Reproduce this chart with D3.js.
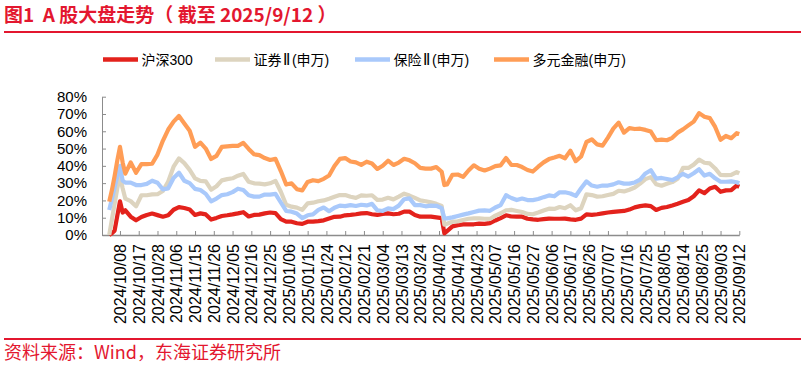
<!DOCTYPE html>
<html><head><meta charset="utf-8">
<script src="https://cdn.jsdelivr.net/npm/d3@7/dist/d3.min.js"></script>
<style>
html,body{margin:0;padding:0;background:#fff;}
svg{display:block;}
</style></head><body>
<svg id="chart" width="805" height="368"></svg>
<script>
// ---------- DATA ----------
const tickLabels = ["2024/10/08","2024/10/17","2024/10/28","2024/11/06","2024/11/15","2024/11/26","2024/12/05","2024/12/16","2024/12/25",
  "2025/01/06","2025/01/15","2025/01/24","2025/02/12","2025/02/21","2025/03/04","2025/03/13","2025/03/24","2025/04/02","2025/04/14",
  "2025/04/23","2025/05/07","2025/05/16","2025/05/27","2025/06/06","2025/06/17","2025/06/26","2025/07/07","2025/07/16","2025/07/25",
  "2025/08/05","2025/08/14","2025/08/25","2025/09/03","2025/09/12"];
// trading-day offset of each tick label (labels every 7 trading days)
const tickDay = [0,7,14,21,28,35,42,49,56,63,70,77,84,91,98,105,112,119,126,133,140,147,154,161,168,175,182,189,196,203,210,217,224,231];
// trading-day offset (from 2024/10/08) of each sampled observation
const tradingDay = [-4,-3,-2,-1,0,1,2,
  4,6,8,10,12,14,16,18,20,22, 24,26,28,30,32,34,36,38,40,42, 44,46,48,50,52,54,56,58,60,62,
  64,66,68,70,72,74,76,78,80,82, 84,86,88,90,92,94,96,98,100,102, 104,106,108,110,112,114,116,118,
  120,121,122,
  124,126,128,130,132,134,136,138,140,142, 144,146,148,150,152,154,156,158,160,162,
  164,166,168,170,172,174,176,178,180,182, 184,186,188,190,192,194,196,198,200,202,
  204,206,208,210,212,214,216,218,220,222, 224,226,228,230,231];
// cumulative change, %
const hs300 = [0,1,2.5,11,19.5,13,14.3,
  10.6,8.5,10.4,11.6,12.4,11.5,10.6,11.4,14.6,16.1, 15.6,14.8,11.6,12.5,11.9,8.9,9.9,11,11.4,11.9,
  12.5,13.2,10.7,11.6,11.8,12.5,13,12.7,9.2,7.7, 7.7,6.8,6.4,7.7,7.7,8,8.5,9.5,10.5,10.6,
  11.4,11.6,12,12.5,12.7,12,11.6,12.2,12.5,12, 12.3,13.5,13.5,11.6,10.6,10.6,10.6,10.2,
  9.8,1,2.3,
  5,5.7,6.1,6.2,6.2,6.6,6.4,6.9,8.4,9.8, 11.4,10.7,10.6,10.6,9.4,9,8.8,9.2,9.5,9.4,
  9.4,9.5,9,8.8,9.5,11.9,11.6,12,12.5,13, 13.4,13.7,13.9,14.7,16,16.7,17.1,16.7,14.5,15.7,
  16.2,17.1,18.1,19.2,20.2,22.4,25.8,24.2,26.9,27.9, 25,25.8,26,28.6,27.9];
const securities = [0,9,18,27,34,27,21,
  19.6,16.6,23,23,23.5,23.6,25.5,31,39.5,44.3, 41.6,37.7,32.8,31.3,31,26.2,28.2,31.6,32.3,32.8,
  34.3,35.3,30.8,29.9,29.7,29.3,29.9,31.3,25,17.5, 16.4,15.8,14.5,18.3,18.7,19.5,20,21,22.1,23.1,
  23.1,22.1,21.5,22.9,22.7,23,20.3,20.5,21.5,20.6, 22.2,23.9,22.8,21.5,20,19.5,18.9,18,
  16.8,6,6.5,
  7.7,7.9,8.7,9.4,9.6,9.6,9.4,9.3,11.2,12.6, 14.3,14.5,13.9,13.3,12.2,12,13,14.2,15.2,15.1,
  16.2,15.5,17.2,14.3,15.5,23.5,23.1,22.2,22.4,23.1, 23.8,25.6,25.2,26.2,27.5,29.7,32.3,33.5,29.4,28.5,
  29.6,30.6,32.5,38.8,38.8,40.7,43.6,41.8,41.4,38.5, 34.7,34.6,34.8,36.4,35.6];
const insurance = [14.5,21,27.5,34,40,31.5,30.3,
  30.3,28.9,28.9,29.6,31.4,30.2,26.4,27,33,36, 31.4,30,26.7,26,23.8,19.5,21.1,23.1,23.6,24.8,
  26.8,26,23,22.2,22.2,23.4,23.4,23.8,18.8,13.9, 13.5,12.4,9.8,11.4,11.9,14.5,15.9,13.8,15.8,17,
  16.7,17.3,16.8,17.5,17.1,18,14.3,13.9,15.4,15, 17,20.7,21.2,17.3,17.3,16.6,17,16.9,
  15.5,9.6,9.6,
  10.2,11,11.8,12.5,13.3,14.1,14.2,14,15.9,17.3, 23,21.4,20.2,21.1,20.2,20.2,20.8,21.9,22.9,22.4,
  24.7,24.7,24,22.6,27,31,28.6,27.9,28.6,28.6, 29.3,30.5,29.7,29.7,30.4,32,35.6,37.5,32.6,33,
  32.4,31.8,33.4,35.4,33.8,35.7,38,34.4,35.4,32.8, 30.8,30.8,31,30.5,29.9];
const diversified = [19.3,26,34,43,51,42,35.5,
  42,36,41,41,41.2,46.5,54.5,61,65.6,68.8, 64.5,60.3,51,53.4,50,44,45.8,51,51.3,51.5,
  51.6,53.3,49.8,46.7,46.2,44.5,43.4,44,37,29.2, 29.9,26.5,25.8,30.7,31.7,31.2,32.5,34.4,39.9,44,
  44.5,42.5,42,40.6,42.4,41.3,38.2,40.1,43,40.5, 41.9,44.1,43.2,41.5,38.8,38.4,38.4,39.3,
  36.6,28.9,29.2,
  34.8,35,33.6,37.3,40.3,38.3,37.3,38.4,39.8,40.3, 44.5,40.5,40.5,39.3,37.6,36.7,39.5,42,43.9,44.8,
  45.8,44.4,48.8,42.7,45.4,53.8,55.3,52.4,51.7,56.3, 61.5,65,59.2,61.8,61.3,61.5,60.8,59.8,54.8,55.2,
  54.8,56.2,59.2,61.1,63.4,65.6,70.5,68.4,67.6,62.5, 55.1,57.3,56,58.9,58.4];
const seriesNames = ["沪深300","证券Ⅱ(申万)","保险Ⅱ(申万)","多元金融(申万)"];
const yTicks = [0,10,20,30,40,50,60,70,80];

// ---------- STYLE / LAYOUT ----------
const seriesColors = ["#E3221C","#DDD4BF","#A9C9FB","#FF9D56"];
const brand = "#E3172F";
const latin = "'Liberation Sans', Arial, 'Noto Sans CJK SC', sans-serif";
const cjk = "'Noto Sans CJK SC', 'Liberation Sans', sans-serif";

const svg = d3.select("#chart");

svg.append("text").attr("x",4).attr("y",21.5)
  .attr("fill",brand).attr("font-family",cjk).attr("font-weight","bold").attr("font-size",19)
  .style("white-space","pre").text("图1  A 股大盘走势（ 截至 2025/9/12 ）");
svg.append("line").attr("x1",4).attr("x2",801).attr("y1",32).attr("y2",32)
  .attr("stroke",brand).attr("stroke-width",2);
svg.append("line").attr("x1",4).attr("x2",801).attr("y1",339).attr("y2",339)
  .attr("stroke",brand).attr("stroke-width",2);
svg.append("text").attr("x",4).attr("y",359)
  .attr("fill",brand).attr("font-family",cjk).attr("font-size",18)
  .text("资料来源：Wind，东海证券研究所");

const x = d3.scaleLinear().domain([-6.7, 231]).range([102, 739.3]);
const y = d3.scaleLinear().domain([0, 80]).range([235, 96.7]);

// y axis
const gy = svg.append("g").attr("transform","translate(102,0)")
  .call(d3.axisLeft(y).tickValues(yTicks).tickFormat(d => d + "%").tickSizeInner(-4).tickSizeOuter(0).tickPadding(15));
gy.select(".domain").attr("stroke","#8c8c8c");
gy.selectAll(".tick line").attr("stroke","#8c8c8c");
gy.selectAll("text").attr("font-family",latin).attr("font-size",15).attr("fill","#000");

// x axis
const gx = svg.append("g").attr("transform","translate(0,235)")
  .call(d3.axisBottom(x).tickValues(tickDay).tickFormat((d,i) => tickLabels[i]).tickSizeInner(-4).tickSizeOuter(0));
gx.select(".domain").attr("stroke","#8c8c8c").attr("stroke-width",1.3);
gx.selectAll(".tick line").attr("stroke","#8c8c8c");
gx.selectAll("text").attr("font-family",latin).attr("font-size",16).attr("fill","#000")
  .attr("transform","rotate(-90)").attr("text-anchor","end")
  .attr("x",-9).attr("y",0).attr("dy","0.35em");

// lines
const series = [hs300, securities, insurance, diversified];
const line = d3.line().x((d,i) => x(tradingDay[i])).y(d => y(d));
series.forEach((vals, k) => {
  svg.append("path").datum(vals).attr("d", line)
    .attr("fill","none").attr("stroke",seriesColors[k]).attr("stroke-width",4.2)
    .attr("stroke-linejoin","round");
});

// legend
const legendX = [103, 215, 355, 494];
seriesNames.forEach((name, k) => {
  const g = svg.append("g").attr("transform",`translate(${legendX[k]},59.5)`);
  g.append("line").attr("x1",0).attr("x2",35).attr("y1",0).attr("y2",0)
    .attr("stroke",seriesColors[k]).attr("stroke-width",4.5);
  const t = g.append("text").attr("x",38.5).attr("y",0).attr("dy","0.36em")
    .attr("font-family",latin).attr("font-size",14).attr("fill","#000");
  let afterNumeral = false;
  name.split(/(Ⅱ)/).filter(s => s.length).forEach(part => {
    const ts = t.append("tspan").text(part);
    if (part === "Ⅱ") {
      ts.attr("font-family","'DejaVu Sans', 'Noto Sans CJK SC', sans-serif")
        .attr("font-size",15).attr("dx",1.5);
      afterNumeral = true;
    } else if (afterNumeral) {
      ts.attr("dx",1.5);
      afterNumeral = false;
    }
  });
});
</script>
</body></html>
